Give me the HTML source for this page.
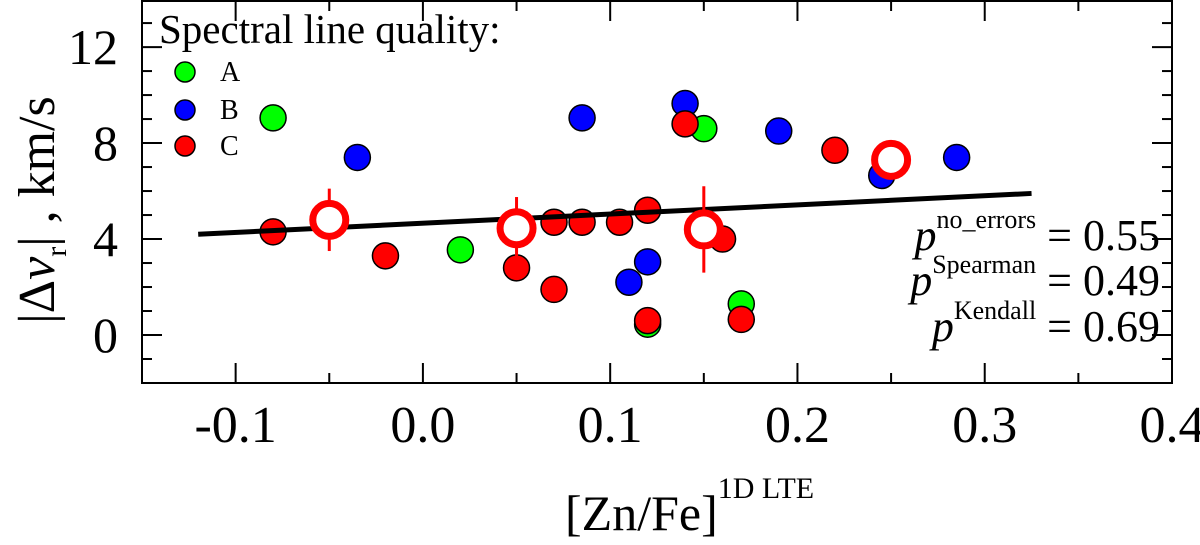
<!DOCTYPE html>
<html><head><meta charset="utf-8"><style>
body{margin:0;background:#fff}
svg{display:block;font-family:"Liberation Serif",serif}
text{font-family:"Liberation Serif",serif}
</style></head><body>
<svg id="chart" width="1200" height="545" viewBox="0 0 1200 545">
<g id="marks"></g>
<g id="axes"></g>
<g>
<text x="159" y="43" font-size="41">Spectral line quality:</text>
<circle cx="185" cy="72" r="10" fill="#00ff00" stroke="#000" stroke-width="1.5"/>
<text x="220" y="81" font-size="28">A</text>
<circle cx="185" cy="110" r="10" fill="#0000ff" stroke="#000" stroke-width="1.5"/>
<text x="220" y="119" font-size="28">B</text>
<circle cx="185" cy="146" r="10" fill="#ff0000" stroke="#000" stroke-width="1.5"/>
<text x="220" y="155" font-size="28">C</text>
</g>
<g font-size="44" text-anchor="end">
<text x="1160" y="250"><tspan font-style="italic">p</tspan><tspan font-size="26" dy="-22">no_errors</tspan><tspan dy="22"> = 0.55</tspan></text>
<text x="1160" y="295"><tspan font-style="italic">p</tspan><tspan font-size="26" dy="-22">Spearman</tspan><tspan dy="22"> = 0.49</tspan></text>
<text x="1160" y="341"><tspan font-style="italic">p</tspan><tspan font-size="26" dy="-22">Kendall</tspan><tspan dy="22"> = 0.69</tspan></text>
</g>
<text x="565" y="530" font-size="50">[Zn/Fe]<tspan font-size="30" dy="-32">1D LTE</tspan></text>
<text transform="translate(54,210) rotate(-90)" text-anchor="middle" font-size="52">|Δ<tspan font-style="italic">v</tspan><tspan font-size="30" dy="12">r</tspan><tspan dy="-12">| , km/s</tspan></text>
</svg>
<script>
const greenX=[-0.08,0.02,0.15,0.12,0.17];
const greenY=[9.05,3.55,8.6,0.45,1.3];
const blueX=[-0.035,0.085,0.14,0.19,0.245,0.285,0.12,0.11];
const blueY=[7.4,9.05,9.65,8.5,6.65,7.4,3.05,2.2];
const redX=[-0.08,-0.02,0.05,0.07,0.07,0.085,0.105,0.12,0.14,0.16,0.22,0.12,0.17];
const redY=[4.3,3.3,2.8,1.9,4.7,4.7,4.7,5.2,8.8,4.0,7.7,0.6,0.65];
const meanX=[-0.05,0.05,0.15,0.25];
const meanY=[4.8,4.45,4.4,7.3];
const meanErr=[1.3,1.3,1.8,0];
const fitX=[-0.12,0.325];
const fitY=[4.2,5.9];
const xTicks=[-0.1,0.0,0.1,0.2,0.3,0.4];
const xTickLabels=["-0.1","0.0","0.1","0.2","0.3","0.4"];
const yTicks=[0,4,8,12];
const yTickLabels=["0","4","8","12"];

const L=142,R=1172,T=1,B=383;
const X0=-0.15,X1=0.4,Y0=-2,Y1=13.92;
function sx(v){return L+(v-X0)/(X1-X0)*(R-L);}
function sy(v){return B-(v-Y0)/(Y1-Y0)*(B-T);}
const NS="http://www.w3.org/2000/svg";
const marks=document.getElementById('marks'),axes=document.getElementById('axes');
function mk(p,tag,a){const e=document.createElementNS(NS,tag);for(const k in a)e.setAttribute(k,a[k]);p.appendChild(e);return e;}

function series(xs,ys,color,name){
  for(let i=0;i<xs.length;i++){
    const c=mk(marks,'circle',{cx:sx(xs[i]),cy:sy(ys[i]),r:13,fill:color,stroke:'#000','stroke-width':1.5});
    
    
  }
}
series(greenX,greenY,'#00ff00','quality-a');
series(blueX,blueY,'#0000ff','quality-b');
series(redX,redY,'#ff0000','quality-c');

const fl=mk(marks,'line',{x1:sx(fitX[0]),y1:sy(fitY[0]),x2:sx(fitX[1]),y2:sy(fitY[1]),stroke:'#000','stroke-width':5});



for(let i=0;i<meanX.length;i++){
  if(meanErr[i]>0){
    const e=mk(marks,'line',{x1:sx(meanX[i]),x2:sx(meanX[i]),y1:sy(meanY[i]+meanErr[i]),y2:sy(meanY[i]-meanErr[i]),stroke:'#ff0000','stroke-width':3});
    
    
  }
  const c=mk(marks,'circle',{cx:sx(meanX[i]),cy:sy(meanY[i]),r:16.5,fill:'#fff',stroke:'#ff0000','stroke-width':7});
  
  
}

const frame=mk(axes,'rect',{x:L,y:T,width:R-L,height:B-T,fill:'none',stroke:'#000','stroke-width':2});



for(let v=-0.15;v<=0.4001;v+=0.05){
  const x=sx(v);const major=Math.abs(Math.round(v*10)-v*10)<1e-6;const len=major?20:10;
  const t1=mk(axes,'line',{x1:x,x2:x,y1:B,y2:B-len,stroke:'#000','stroke-width':2});
  
  
  const t2=mk(axes,'line',{x1:x,x2:x,y1:T,y2:T+len,stroke:'#000','stroke-width':2});
  
  
}
for(let i=0;i<xTicks.length;i++){
  const t=mk(axes,'text',{x:sx(xTicks[i]),y:442,'text-anchor':'middle','font-size':52});
  t.textContent=xTickLabels[i];
  
  
}
for(let v=-1;v<=13;v+=1){
  const y=sy(v);const major=v%4===0;const len=major?20:10;
  const t1=mk(axes,'line',{x1:L,x2:L+len,y1:y,y2:y,stroke:'#000','stroke-width':2});
  
  
  const t2=mk(axes,'line',{x1:R,x2:R-len,y1:y,y2:y,stroke:'#000','stroke-width':2});
  
  
}
for(let i=0;i<yTicks.length;i++){
  const t=mk(axes,'text',{x:118,y:sy(yTicks[i])+17,'text-anchor':'end','font-size':50});
  t.textContent=yTickLabels[i];
  
  
}
</script>
</body></html>
